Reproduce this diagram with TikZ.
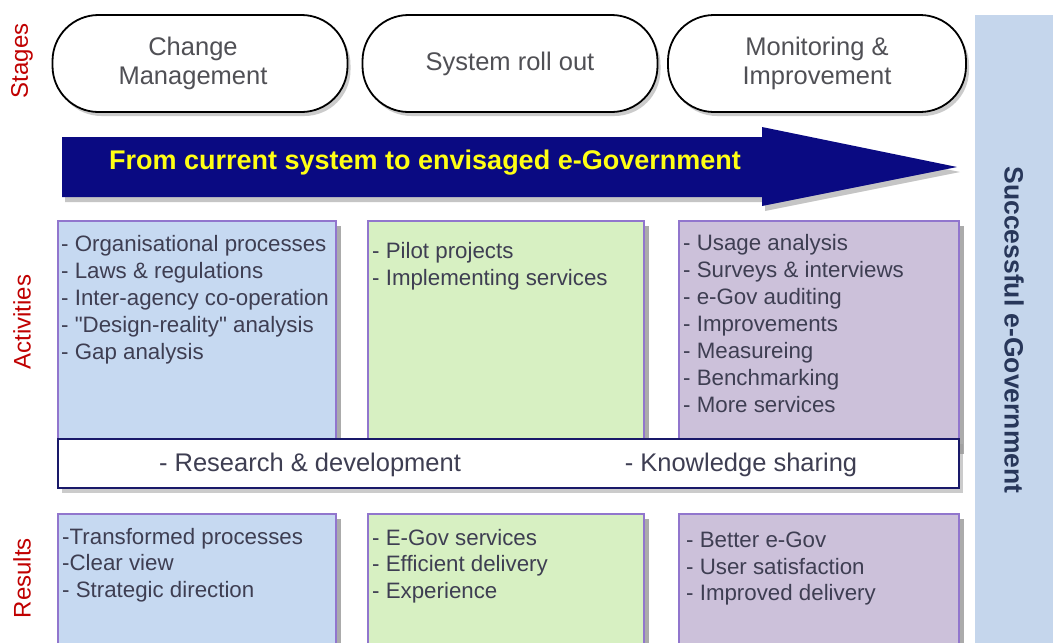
\documentclass[tikz,border=0pt]{standalone}
\usepackage{fontspec}
\setmainfont{Liberation Sans}[Ligatures=TeXOff]
\usetikzlibrary{shadows}
\definecolor{navyarrow}{RGB}{10,10,130}
\definecolor{arrowtext}{RGB}{255,255,20}
\definecolor{labelred}{RGB}{192,0,0}
\definecolor{txtgray}{RGB}{62,62,82}
\definecolor{pilltxt}{RGB}{80,80,85}
\definecolor{boxblue}{RGB}{198,217,241}
\definecolor{boxgreen}{RGB}{215,240,194}
\definecolor{boxlav}{RGB}{204,193,218}
\definecolor{boxborder}{RGB}{145,118,205}
\definecolor{barborder}{RGB}{25,25,105}
\definecolor{rightbar}{RGB}{197,214,236}
\definecolor{succtxt}{RGB}{40,55,90}
\tikzset{
  pill/.style={draw=black, line width=1.8pt, fill=white, rounded corners=46pt,
    minimum height=97pt, inner sep=0pt, align=center, text=pilltxt,
    font=\fontsize{25.5}{29}\selectfont,
    drop shadow={shadow xshift=3pt, shadow yshift=-4pt, fill=black!40, opacity=0.5}},
  actbox/.style={draw=boxborder, line width=2.2pt, inner sep=0pt,
    drop shadow={shadow xshift=5pt, shadow yshift=-5pt, fill=black!55, opacity=0.6}},
  boxtext/.style={anchor=north west, inner sep=0pt, align=left, text=txtgray,
    font=\fontsize{22.3}{27}\selectfont},
  restext/.style={boxtext, font=\fontsize{22.3}{26.5}\selectfont},
  vlabel/.style={rotate=90, text=labelred, inner sep=0pt, font=\fontsize{24}{28}\selectfont},
  bartext/.style={inner sep=0pt, text=txtgray, font=\fontsize{25.5}{30}\selectfont}
}
\begin{document}
\begin{tikzpicture}[x=1pt,y=-1pt]
\useasboundingbox (0,0) rectangle (1053,643);
\clip (0,0) rectangle (1053,643);
\fill[white] (0,0) rectangle (1053,643);

% right bar
\node[fill=rightbar, minimum width=78pt, minimum height=650pt, anchor=north west, inner sep=0pt] (rbar) at (975,15) {};
\node[rotate=-90, text=succtxt, inner sep=0pt, font=\bfseries\fontsize{26.5}{30}\selectfont] (succ) at (1014,330) {Successful e-Government};

% side labels
\node[vlabel] (lstages) at (22,61) {Stages};
\node[vlabel] (lact) at (22,322) {Activities};
\node[vlabel] (lres) at (22,578) {Results};

% stages
\node[pill, minimum width=295pt] (s1) at (200,63.5) {Change\hspace*{14pt}\\Management\hspace*{14pt}};
\node[pill, minimum width=295pt] (s2) at (510,63.5) {System roll out};
\node[pill, minimum width=298pt] (s3) at (817,63.5) {Monitoring \&\\Improvement};

% big arrow
\coordinate (ab1) at (62,137);
\coordinate (ab2) at (762,137);
\coordinate (ah1) at (762,127);
\coordinate (atip) at (957,167);
\coordinate (ah2) at (762,206);
\coordinate (ab3) at (762,197);
\coordinate (ab4) at (62,197);
\fill[black!45, opacity=0.5] ([shift={(3,5)}]ab1) -- ([shift={(3,5)}]ab2) -- ([shift={(3,5)}]ah1) -- ([shift={(3,5)}]atip) -- ([shift={(3,5)}]ah2) -- ([shift={(3,5)}]ab3) -- ([shift={(3,5)}]ab4) -- cycle;
\fill[navyarrow] (ab1) -- (ab2) -- (ah1) -- (atip) -- (ah2) -- (ab3) -- (ab4) -- cycle;
\node[text=arrowtext, inner sep=0pt, font=\bfseries\fontsize{27}{30}\selectfont] (arrowlabel) at (425,163) {From current system to envisaged e-Government};

% activity boxes
\node[actbox, fill=boxblue, minimum width=278pt, minimum height=228pt, anchor=north west] (a1) at (57,220) {};
\node[actbox, fill=boxgreen, minimum width=276pt, minimum height=228pt, anchor=north west] (a2) at (367,220) {};
\node[actbox, fill=boxlav, minimum width=280pt, minimum height=228pt, anchor=north west] (a3) at (678,220) {};

\node[boxtext] (t1) at (61,235) {- Organisational processes\\- Laws \& regulations\\- Inter-agency co-operation\\- "Design-reality" analysis\\- Gap analysis};
\node[boxtext] (t2) at (372,242) {- Pilot projects\\- Implementing services};
\node[boxtext] (t3) at (683,234) {- Usage analysis\\- Surveys \& interviews\\- e-Gov auditing\\- Improvements\\- Measureing\\- Benchmarking\\- More services};

% research bar
\node[draw=barborder, line width=2.2pt, fill=white, minimum width=901pt, minimum height=49pt, anchor=north west, inner sep=0pt,
  drop shadow={shadow xshift=4pt, shadow yshift=-5pt, fill=black!40, opacity=0.5}] (bar) at (57,438) {};
\node[bartext] (rd) at (310,465) {- Research \& development};
\node[bartext] (ks) at (741,465) {- Knowledge sharing};

% result boxes
\node[actbox, fill=boxblue, minimum width=278pt, minimum height=150pt, anchor=north west] (r1) at (57,513) {};
\node[actbox, fill=boxgreen, minimum width=276pt, minimum height=150pt, anchor=north west] (r2) at (367,513) {};
\node[actbox, fill=boxlav, minimum width=280pt, minimum height=150pt, anchor=north west] (r3) at (678,513) {};

\node[restext] (u1) at (62,528) {-Transformed processes\\-Clear view\\- Strategic direction};
\node[restext] (u2) at (372,529) {- E-Gov services\\- Efficient delivery\\- Experience};
\node[restext] (u3) at (686,532) {- Better e-Gov\\- User satisfaction\\- Improved delivery};
\end{tikzpicture}
\end{document}
